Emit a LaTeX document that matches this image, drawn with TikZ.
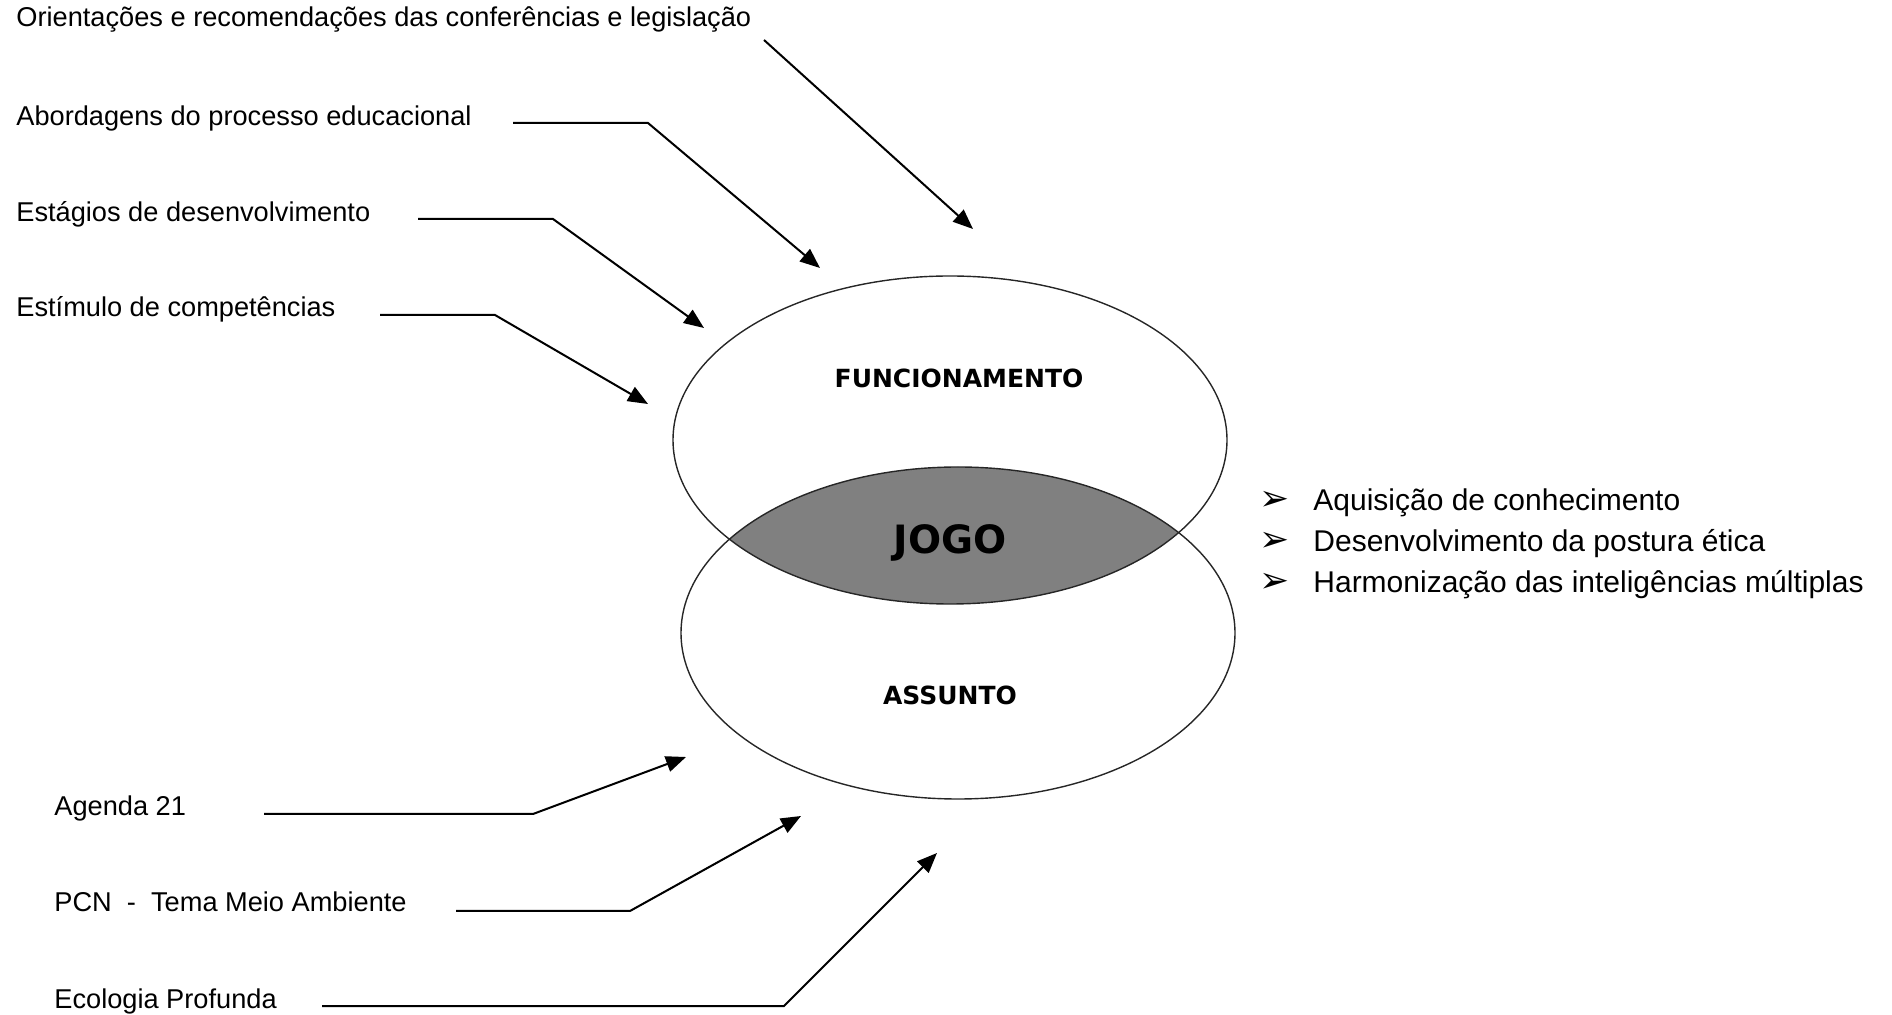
\documentclass[tikz,border=0pt]{standalone}
\usepackage{fontspec}
\setmainfont{Liberation Sans}
\newfontfamily\vennfont{DejaVu Sans}
\usetikzlibrary{arrows.meta}
\usetikzlibrary{shapes.geometric}
\definecolor{lensgray}{RGB}{128,128,128}
\newcommand{\sizesource}{\fontsize{13.6}{16}\selectfont}
\newcommand{\sizeitem}{\fontsize{15}{18}\selectfont}
\tikzset{
    source/.style={anchor=base west, inner sep=0pt, font=\sizesource},
    item/.style={anchor=base west, inner sep=0pt, font=\sizeitem},
    bulletmark/.style={inner sep=0pt, font=\vennfont\fontsize{18}{20}\selectfont},
    venn/.style={draw=black!85, line width=0.7pt, ellipse, minimum width=277pt, inner sep=0pt},
    vennlabel/.style={inner sep=0pt, font=\vennfont\bfseries\fontsize{12.5}{14}\selectfont},
    feed/.style={-{Triangle[length=10pt,width=8pt]}, line width=1pt}
}

\begin{document}
\begin{tikzpicture}[x=0.5pt, y=-0.5pt]
        \useasboundingbox (0,0) rectangle (1892,1015);

        \coordinate (top-c) at (950,440);
        \coordinate (bot-c) at (958,633);
        \begin{scope}
            \clip (top-c) ellipse [x radius=277, y radius=164];
            \fill[lensgray] (bot-c) ellipse [x radius=277, y radius=166];
        \end{scope}
        \node[venn, minimum height=164pt] (funcionamento) at (top-c) {};
        \node[venn, minimum height=166pt] (assunto) at (bot-c) {};
        \node[vennlabel] (funcionamento-label) at (959,378) {FUNCIONAMENTO};
        \node[vennlabel, font=\vennfont\bfseries\fontsize{19.5}{22}\selectfont] (jogo) at (950,543) {JOGO};
        \node[vennlabel] (assunto-label) at (950,695) {ASSUNTO};

        \path
            (16,27) node[source] (orient) {Orientações e recomendações das conferências e legislação}
            (16,126) node[source] (abord) {Abordagens do processo educacional}
            (16,222) node[source] (estag) {Estágios de desenvolvimento}
            (16,317) node[source] (estim) {Estímulo de competências}
            (54,816) node[source] (agenda) {Agenda 21}
            (54,912) node[source] (pcn) {PCN \ - \ Tema Meio Ambiente}
            (54,1008) node[source] (ecol) {Ecologia Profunda};

        \path
            (1275,501) node[bulletmark] (mark-a) {➢}
            ++(0,41) node[bulletmark] (mark-b) {➢}
            ++(0,41) node[bulletmark] (mark-c) {➢};
        \path
            (1313,511) node[item] (aquisicao) {Aquisição de conhecimento}
            ++(0,41) node[item] (postura) {Desenvolvimento da postura ética}
            ++(0,41) node[item] (harmonizacao) {Harmonização das inteligências múltiplas};

        \coordinate (orient-start) at (764,40);
        \coordinate (orient-tip) at (973,229);
        \coordinate (abord-start) at (513,123);
        \coordinate (abord-bend) at (648,123);
        \coordinate (abord-tip) at (820,268);
        \coordinate (estag-start) at (418,219);
        \coordinate (estag-bend) at (553,219);
        \coordinate (estag-tip) at (704,328);
        \coordinate (estim-start) at (380,315);
        \coordinate (estim-bend) at (495,315);
        \coordinate (estim-tip) at (648,404);
        \coordinate (agenda-start) at (264,814);
        \coordinate (agenda-bend) at (533,814);
        \coordinate (agenda-tip) at (686,757);
        \coordinate (pcn-start) at (456,911);
        \coordinate (pcn-bend) at (630,911);
        \coordinate (pcn-tip) at (801,816);
        \coordinate (ecol-start) at (322,1006);
        \coordinate (ecol-bend) at (784,1006);
        \coordinate (ecol-tip) at (937,853);

        \draw[feed] (orient-start) -- (orient-tip);
        \draw[feed] (abord-start) -- (abord-bend) -- (abord-tip);
        \draw[feed] (estag-start) -- (estag-bend) -- (estag-tip);
        \draw[feed] (estim-start) -- (estim-bend) -- (estim-tip);
        \draw[feed] (agenda-start) -- (agenda-bend) -- (agenda-tip);
        \draw[feed] (pcn-start) -- (pcn-bend) -- (pcn-tip);
        \draw[feed] (ecol-start) -- (ecol-bend) -- (ecol-tip);
    \end{tikzpicture}
\end{document}
